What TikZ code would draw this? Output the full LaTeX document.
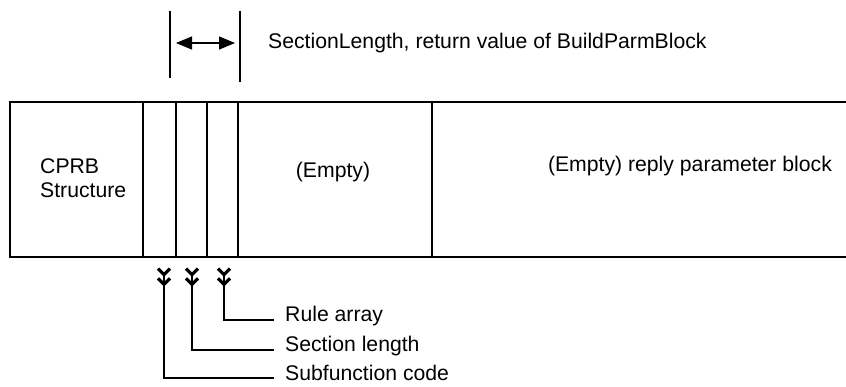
\documentclass[tikz,border=0pt]{standalone}
\usepackage{fontspec}
\setmainfont{Liberation Sans}
\usepackage{tikz}
\usetikzlibrary{arrows.meta}
\usetikzlibrary{calc}

\begin{document}
\begin{tikzpicture}[x=1pt,y=-1pt]
    \newcommand{\labelgap}[0]{ 11pt }
    \tikzstyle{frame}=[line width=1.4pt,draw=black]
    \tikzstyle{shared}=[
      inner sep=0pt,
      font=\fontsize{21.2}{24.5}\selectfont,
    ]
    \tikzstyle{cell}=[
      shared,
      anchor=center,
    ]
    \tikzstyle{tag}=[
      shared,
      anchor=base west,
    ]
    \tikzstyle{dedge}=[line width=1.3pt,{Triangle[length=16pt,width=13pt]}-{Triangle[length=16pt,width=13pt]}]
    \tikzstyle{leader}=[line width=1.3pt,{Straight Barb[reversed,length=6pt,width=12pt,line width=3.2pt,sep=3pt]Straight Barb[reversed,length=6pt,width=12pt,line width=3.2pt]}-]

    \useasboundingbox (0,0) rectangle (846,387);

    % span markers above the block
    \coordinate (span left top) at (170,11);
    \coordinate (span left bot) at (170,78);
    \coordinate (span right top) at (240,11);
    \coordinate (span right bot) at (240,82);
    \coordinate (span left mid) at (170,43);
    \coordinate (span right mid) at (240,43);
    \draw[frame] (span left top) -- (span left bot);
    \draw[frame] (span right top) -- (span right bot);
    \draw[dedge] ([xshift=6pt]span left mid) -- ([xshift=-5pt]span right mid);
    \node[tag, anchor=west] (span text) at (268,43) {SectionLength, return value of BuildParmBlock};

    % the block
    \draw[frame] (846,102) -- (10,102) -- (10,257) -- (846,257);
    \foreach \x in {143,176,207,238,432} {
      \draw[frame] (\x,102) -- (\x,257);
    }

    \node[cell, align=left, anchor=west] (cprb) at (40,178) {CPRB\\Structure};
    \node[cell] (empty) at (333,172) {(Empty)};
    \node[cell] (reply) at (690,166) {(Empty) reply parameter block};

    % leaders below the block
    \coordinate (subfn tip) at (164,264);
    \coordinate (seclen tip) at (192,264);
    \coordinate (rule tip) at (224,264);
    \node[tag] (rule label) at (285,322) {Rule array};
    \node[tag] (seclen label) at (285,352) {Section length};
    \node[tag] (subfn label) at (285,380) {Subfunction code};

    \draw[leader] (rule tip) |- ([shift={(-\labelgap,2pt)}]rule label.base west);
    \draw[leader] (seclen tip) |- ([shift={(-\labelgap,2pt)}]seclen label.base west);
    \draw[leader] (subfn tip) |- ([shift={(-\labelgap,2pt)}]subfn label.base west);
\end{tikzpicture}
\end{document}
